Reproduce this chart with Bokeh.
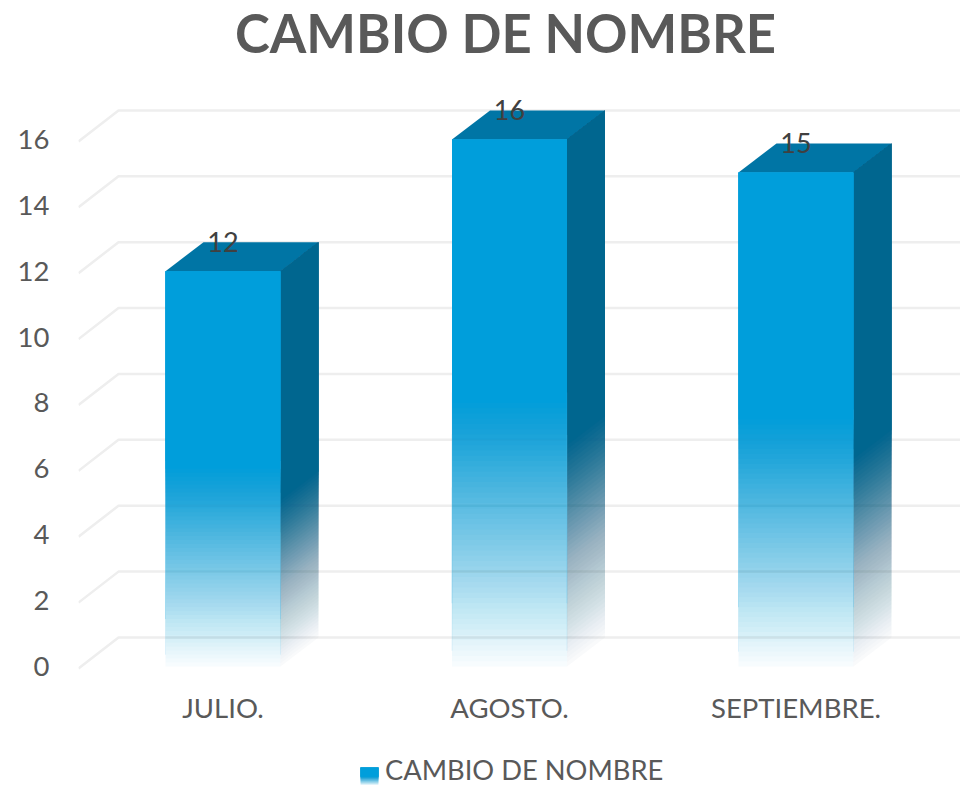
from bokeh.plotting import figure
from bokeh.embed import file_html
from bokeh.resources import INLINE
from bokeh.models import Range1d, FixedTicker, Legend, LegendItem
from bokeh.core.properties import value

categories = ["JULIO.", "AGOSTO.", "SEPTIEMBRE."]
series_name = "CAMBIO DE NOMBRE"
values = [12, 16, 15]
y_ticks = [0, 2, 4, 6, 8, 10, 12, 14, 16]
chart_title = "CAMBIO DE NOMBRE"

PX_X = 286.5   # pixels per category
PX_Y = 32.94   # pixels per value unit
BAR_W = 115 / PX_X
DX = 38 / PX_X
DY = 29 / PX_Y
FRONT = "#009EDB"
TOP = "#0075A5"
SIDE = "#00668F"
SIDE_LOW = "#3E6F80"
EDGE = "#5CC0E8"
N = 50


def layers(span):
    """Nested layers whose accumulated opacity gives a smooth fade from floor up to span."""
    out, prev = [], 0.0
    for k in range(N + 1):
        t = 0.03 + 0.97 * k / N
        out.append((k / N * span, 1 - (1 - t) / (1 - prev)))
        prev = t
    return out


p = figure(width=960, height=785, output_backend="svg", toolbar_location=None,
           x_range=Range1d((78 - 222.5) / PX_X, (960 - 222.5) / PX_X),
           y_range=Range1d(-(785 - 666) / PX_Y, 666 / PX_Y),
           min_border_left=78, min_border_right=0, min_border_top=0, min_border_bottom=0,
           outline_line_color=None, background_fill_color="white", border_fill_color="white")
p.grid.visible = False

# back-wall grid lines with their floor-side diagonal
x0 = p.x_range.start
x_back = x0 + 40 / PX_X
p.multi_line([[x0, x_back, p.x_range.end] for _ in y_ticks],
             [[v - 0.06, v + DY, v + DY] for v in y_ticks],
             line_color="#EEEEEE", line_width=2.5)

# 3D bars
for i, v in enumerate(values):
    l, r = i - BAR_W / 2, i + BAR_W / 2
    p.patch([l, r, r + DX, l + DX], [v, v, v + DY, v + DY], fill_color=TOP, line_color=None)
    for frac, a in layers(0.42):
        b = v * frac
        p.patch([r, r + DX, r + DX, r], [b, b + DY, v + DY, v],
                fill_color=SIDE if frac > 0.2 else SIDE_LOW, fill_alpha=a, line_color=None)
    for frac, a in layers(0.5):
        b = v * frac
        p.patch([l, r, r, l], [b, b, v, v], fill_color=FRONT, fill_alpha=a, line_color=None)
    for lo, hi, ea in [(0.03, 0.12, 0.15), (0.12, 0.34, 0.4), (0.34, 0.44, 0.25), (0.44, 0.52, 0.12)]:
        p.segment([l, r], [v * lo] * 2, [l, r], [v * hi] * 2,
                  line_color=EDGE, line_alpha=ea, line_width=1)

# data labels
p.text(list(range(3)), [v + DY for v in values], text=[str(v) for v in values],
       text_font=value("Lato"), text_font_size="27px", text_color="#404040",
       text_align="center", text_baseline="middle")

# title
p.text([(505 - 222.5) / PX_X], [(666 - 32) / PX_Y], text=[chart_title],
       text_font=value("Lato"), text_font_style="bold", text_font_size="52.6px",
       text_color="#595959", text_align="center", text_baseline="middle")

# axes
p.xaxis.fixed_location = 0
p.xaxis.ticker = FixedTicker(ticks=[0, 1, 2])
p.xaxis.major_label_overrides = {i: c for i, c in enumerate(categories)}
p.xaxis.major_label_standoff = 18
p.yaxis.ticker = FixedTicker(ticks=y_ticks)
p.yaxis.major_label_standoff = 23
for ax in (p.xaxis[0], p.yaxis[0]):
    ax.axis_line_color = None
    ax.major_tick_line_color = None
    ax.minor_tick_line_color = None
    ax.major_label_text_font = "Lato"
    ax.major_label_text_font_size = "27.5px"
    ax.major_label_text_color = "#595959"

# legend: label from Bokeh, gradient swatch from nested layers
sw_l, sw_r = (360 - 222.5) / PX_X, (378 - 222.5) / PX_X
sw_t, sw_b = (666 - 767) / PX_Y, (666 - 785) / PX_Y
for frac, a in layers(0.5):
    p.patch([sw_l, sw_r, sw_r, sw_l],
            [sw_b + (sw_t - sw_b) * frac] * 2 + [sw_t] * 2,
            fill_color=FRONT, fill_alpha=a, line_color=None)
ghost = p.patch([sw_l, sw_r, sw_r, sw_l], [sw_b, sw_b, sw_t, sw_t], fill_alpha=0, line_alpha=0)
legend = Legend(items=[LegendItem(label=series_name, renderers=[ghost])],
                location=(306, -1), orientation="horizontal",
                background_fill_alpha=0, border_line_color=None,
                label_text_font="Lato", label_text_font_size="27.3px", label_text_color="#595959",
                glyph_width=1, glyph_height=1, label_standoff=0, padding=0, margin=0)
p.add_layout(legend)

open("out.html", "w").write(file_html(p, INLINE))
